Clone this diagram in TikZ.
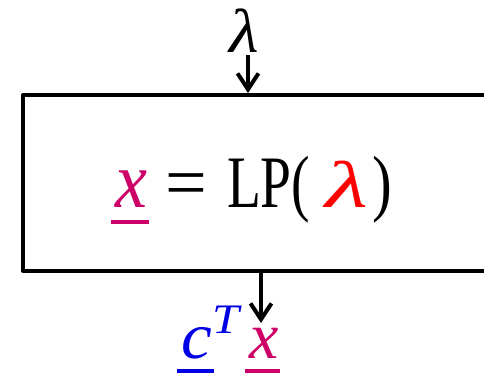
\documentclass[tikz,border=0pt]{standalone}
\usepackage{fontspec}
\setmainfont{Liberation Serif}
\usepackage{xcolor}
\usepackage{graphicx}
\usetikzlibrary{arrows.meta,positioning}
\definecolor{varmag}{RGB}{204,0,102}
\definecolor{costblue}{RGB}{0,0,230}
\definecolor{lamred}{RGB}{255,0,0}
% underlined variable: colour, contents, drop of the bar
\newcommand{\ulvar}[3]{\setbox0\hbox{#2}%
  \leavevmode\rlap{\color{#1}\hspace{-2pt}\raisebox{-#3}{\rule{\dimexpr\wd0+3pt\relax}{2pt}}}\box0}
% horizontal stretch of a glyph
\newcommand{\wide}[2]{\scalebox{#1}[1]{#2}}

\begin{document}
\begin{tikzpicture}[x=0.5pt, y=-0.5pt,
    flow/.style={line width=2pt, -{Straight Barb[length=8pt, width=10.5pt, line width=2pt]}},
    lpbox/.style={draw, line width=2pt, line join=round, minimum width=260pt, minimum height=88pt, inner sep=0pt}]
    \useasboundingbox (0,0) rectangle (484,376);

    % Block
    \node[lpbox] (box) at (283,183) {};

    % Input
    \node[anchor=base, inner sep=1.5pt, font=\fontsize{31}{34}\selectfont\itshape] (lam) at (244,52) {\wide{1.1}{λ}};
    \draw[flow] (lam.south -| 248,0) -- (248,0 |- box.north);

    % Equation in the block
    \node[anchor=base west, inner sep=0pt, font=\fontsize{37}{42}\selectfont] (eq) at (115,207)
        {\ulvar{varmag}{\textcolor{varmag}{\fontsize{40}{44}\selectfont\itshape\wide{0.9}{x}}}{8.5pt}\hspace{9pt}=\hspace{10pt}\wide{0.75}{LP(}\hspace{7.5pt}\textcolor{lamred}{\fontsize{33}{38}\selectfont\itshape\wide{1.5}{λ}}\hspace{2pt}\wide{0.8}{)}};

    % Output
    \node[anchor=base west, inner sep=0pt, font=\fontsize{33}{38}\selectfont\itshape] (cost) at (181,358)
        {\ulvar{costblue}{\textcolor{costblue}{\wide{1.05}{c}}}{7.5pt}\textcolor{costblue}{\raisebox{12.5pt}{\fontsize{21}{24}\selectfont\wide{1.15}{T}}}\hspace{5pt}\ulvar{varmag}{\textcolor{varmag}{x}}{7.5pt}};
    \coordinate (outtip) at (261,323);
    \draw[flow] (box.south -| outtip) -- (outtip);
\end{tikzpicture}
\end{document}
